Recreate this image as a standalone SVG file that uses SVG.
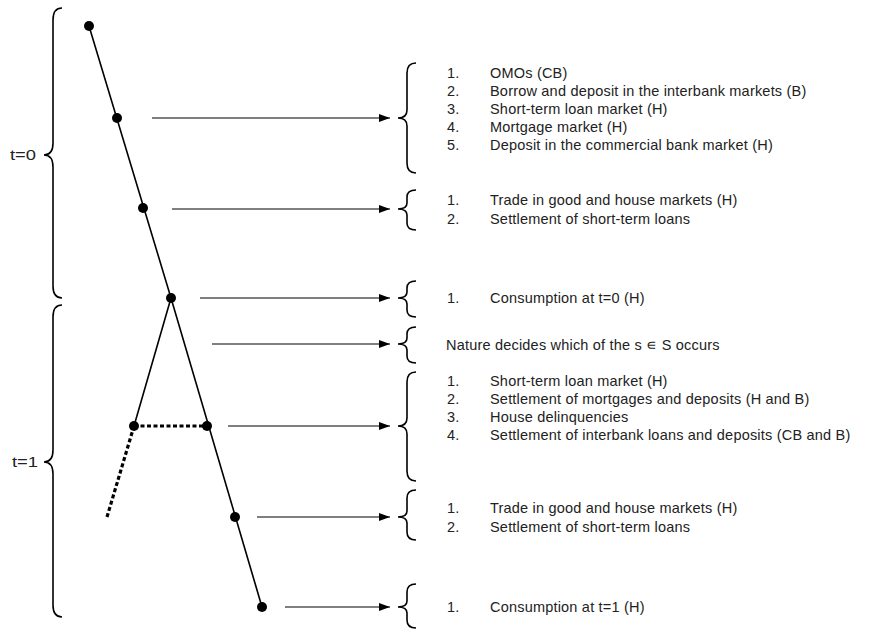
<svg xmlns="http://www.w3.org/2000/svg" width="873" height="629" viewBox="0 0 873 629">
<defs>
<marker id="ah" markerWidth="12" markerHeight="10" refX="11" refY="5" orient="auto" markerUnits="userSpaceOnUse">
<path d="M0,1 L11,5 L0,9 Z" fill="#000"/>
</marker>
<style>
.t{font-family:"Liberation Sans",Arial,sans-serif;font-size:14.5px;letter-spacing:0.2px;fill:#222}
.p{font-family:"Liberation Sans",Arial,sans-serif;font-size:15px;fill:#222}
.b{fill:none;stroke:#000;stroke-width:1.6}
.ln{stroke:#000;stroke-width:1.6;fill:none}
.ar{stroke:#000;stroke-width:1.2;fill:none}
.dt{stroke:#000;stroke-width:3.2;stroke-dasharray:4 2.5;fill:none}
.n{fill:#000}
</style>
</defs>
<rect width="873" height="629" fill="#fff"/>
<g id="tree">
<path class="ln" d="M89,26 L171,298 L262,607 M171,298 L134,426"/>
<path class="dt" d="M134,426 L207,426 M134,426 L107,517"/>
</g>
<g id="nodes">
<circle id="n0" class="n" cx="89" cy="26" r="5"/>
<circle id="n1" class="n" cx="117" cy="118" r="5"/>
<circle id="n2" class="n" cx="143" cy="208" r="5"/>
<circle id="n3" class="n" cx="171" cy="298" r="5"/>
<circle id="n4" class="n" cx="134" cy="426" r="5"/>
<circle id="n5" class="n" cx="207" cy="426" r="5"/>
<circle id="n6" class="n" cx="235" cy="517" r="5"/>
<circle id="n7" class="n" cx="262" cy="607" r="5"/>
</g>
<g id="periods">
<path class="b" d="M62,8 Q53,8 53,20 L53,143 Q53,155 44,155 Q53,155 53,167 L53,286 Q53,298 62,298"/>
<text class="p" x="10" y="160" textLength="26" lengthAdjust="spacingAndGlyphs">t=0</text>
<path class="b" d="M62,305 Q53,305 53,317 L53,450 Q53,462 44,462 Q53,462 53,474 L53,605 Q53,617 62,617"/>
<text class="p" x="12" y="467" textLength="26" lengthAdjust="spacingAndGlyphs">t=1</text>
</g>
<g id="connectors">
<line class="ar" x1="152" y1="118" x2="390" y2="118" marker-end="url(#ah)"/>
<line class="ar" x1="172" y1="209" x2="390" y2="209" marker-end="url(#ah)"/>
<line class="ar" x1="200" y1="298" x2="390" y2="298" marker-end="url(#ah)"/>
<line class="ar" x1="212" y1="344" x2="390" y2="344" marker-end="url(#ah)"/>
<line class="ar" x1="228" y1="426" x2="390" y2="426" marker-end="url(#ah)"/>
<line class="ar" x1="257" y1="517" x2="390" y2="517" marker-end="url(#ah)"/>
<line class="ar" x1="285" y1="607" x2="390" y2="607" marker-end="url(#ah)"/>
</g>
<g id="stage1">
<path class="b" d="M416,63 Q407,63 407,73 L407,110 Q407,118 398,118 Q407,118 407,126 L407,163 Q407,173 416,173"/>
<text class="t" x="447" y="78">1.</text><text class="t" x="490" y="78">OMOs (CB)</text>
<text class="t" x="447" y="96">2.</text><text class="t" x="490" y="96">Borrow and deposit in the interbank markets (B)</text>
<text class="t" x="447" y="114">3.</text><text class="t" x="490" y="114">Short-term loan market (H)</text>
<text class="t" x="447" y="132">4.</text><text class="t" x="490" y="132">Mortgage market (H)</text>
<text class="t" x="447" y="150">5.</text><text class="t" x="490" y="150">Deposit in the commercial bank market (H)</text>
</g>
<g id="stage2">
<path class="b" d="M416,190 Q407,190 407,197 L407,203 Q407,209 398,209 Q407,209 407,215 L407,223 Q407,230 416,230"/>
<text class="t" x="447" y="205">1.</text><text class="t" x="490" y="205">Trade in good and house markets (H)</text>
<text class="t" x="447" y="224">2.</text><text class="t" x="490" y="224">Settlement of short-term loans</text>
</g>
<g id="stage3">
<path class="b" d="M416,281 Q407,281 407,288 L407,292 Q407,298 398,298 Q407,298 407,304 L407,310 Q407,317 416,317"/>
<text class="t" x="447" y="303">1.</text><text class="t" x="490" y="303">Consumption at t=0 (H)</text>
</g>
<g id="stage4">
<path class="b" d="M416,327 Q407,327 407,334 L407,338 Q407,344 398,344 Q407,344 407,350 L407,356 Q407,363 416,363"/>
<text class="t" x="446" y="350">Nature decides which of the s ∊ S occurs</text>
</g>
<g id="stage5">
<path class="b" d="M416,372 Q407,372 407,382 L407,418 Q407,426 398,426 Q407,426 407,434 L407,471 Q407,481 416,481"/>
<text class="t" x="447" y="386">1.</text><text class="t" x="490" y="386">Short-term loan market (H)</text>
<text class="t" x="447" y="404">2.</text><text class="t" x="490" y="404">Settlement of mortgages and deposits (H and B)</text>
<text class="t" x="447" y="422">3.</text><text class="t" x="490" y="422">House delinquencies</text>
<text class="t" x="447" y="440">4.</text><text class="t" x="490" y="440">Settlement of interbank loans and deposits (CB and B)</text>
</g>
<g id="stage6">
<path class="b" d="M416,490 Q407,490 407,498 L407,511 Q407,517 398,517 Q407,517 407,523 L407,532 Q407,540 416,540"/>
<text class="t" x="447" y="513">1.</text><text class="t" x="490" y="513">Trade in good and house markets (H)</text>
<text class="t" x="447" y="532">2.</text><text class="t" x="490" y="532">Settlement of short-term loans</text>
</g>
<g id="stage7">
<path class="b" d="M416,584 Q407,584 407,592 L407,601 Q407,607 398,607 Q407,607 407,613 L407,620 Q407,628 416,628"/>
<text class="t" x="447" y="612">1.</text><text class="t" x="490" y="612">Consumption at t=1 (H)</text>
</g>
</svg>
